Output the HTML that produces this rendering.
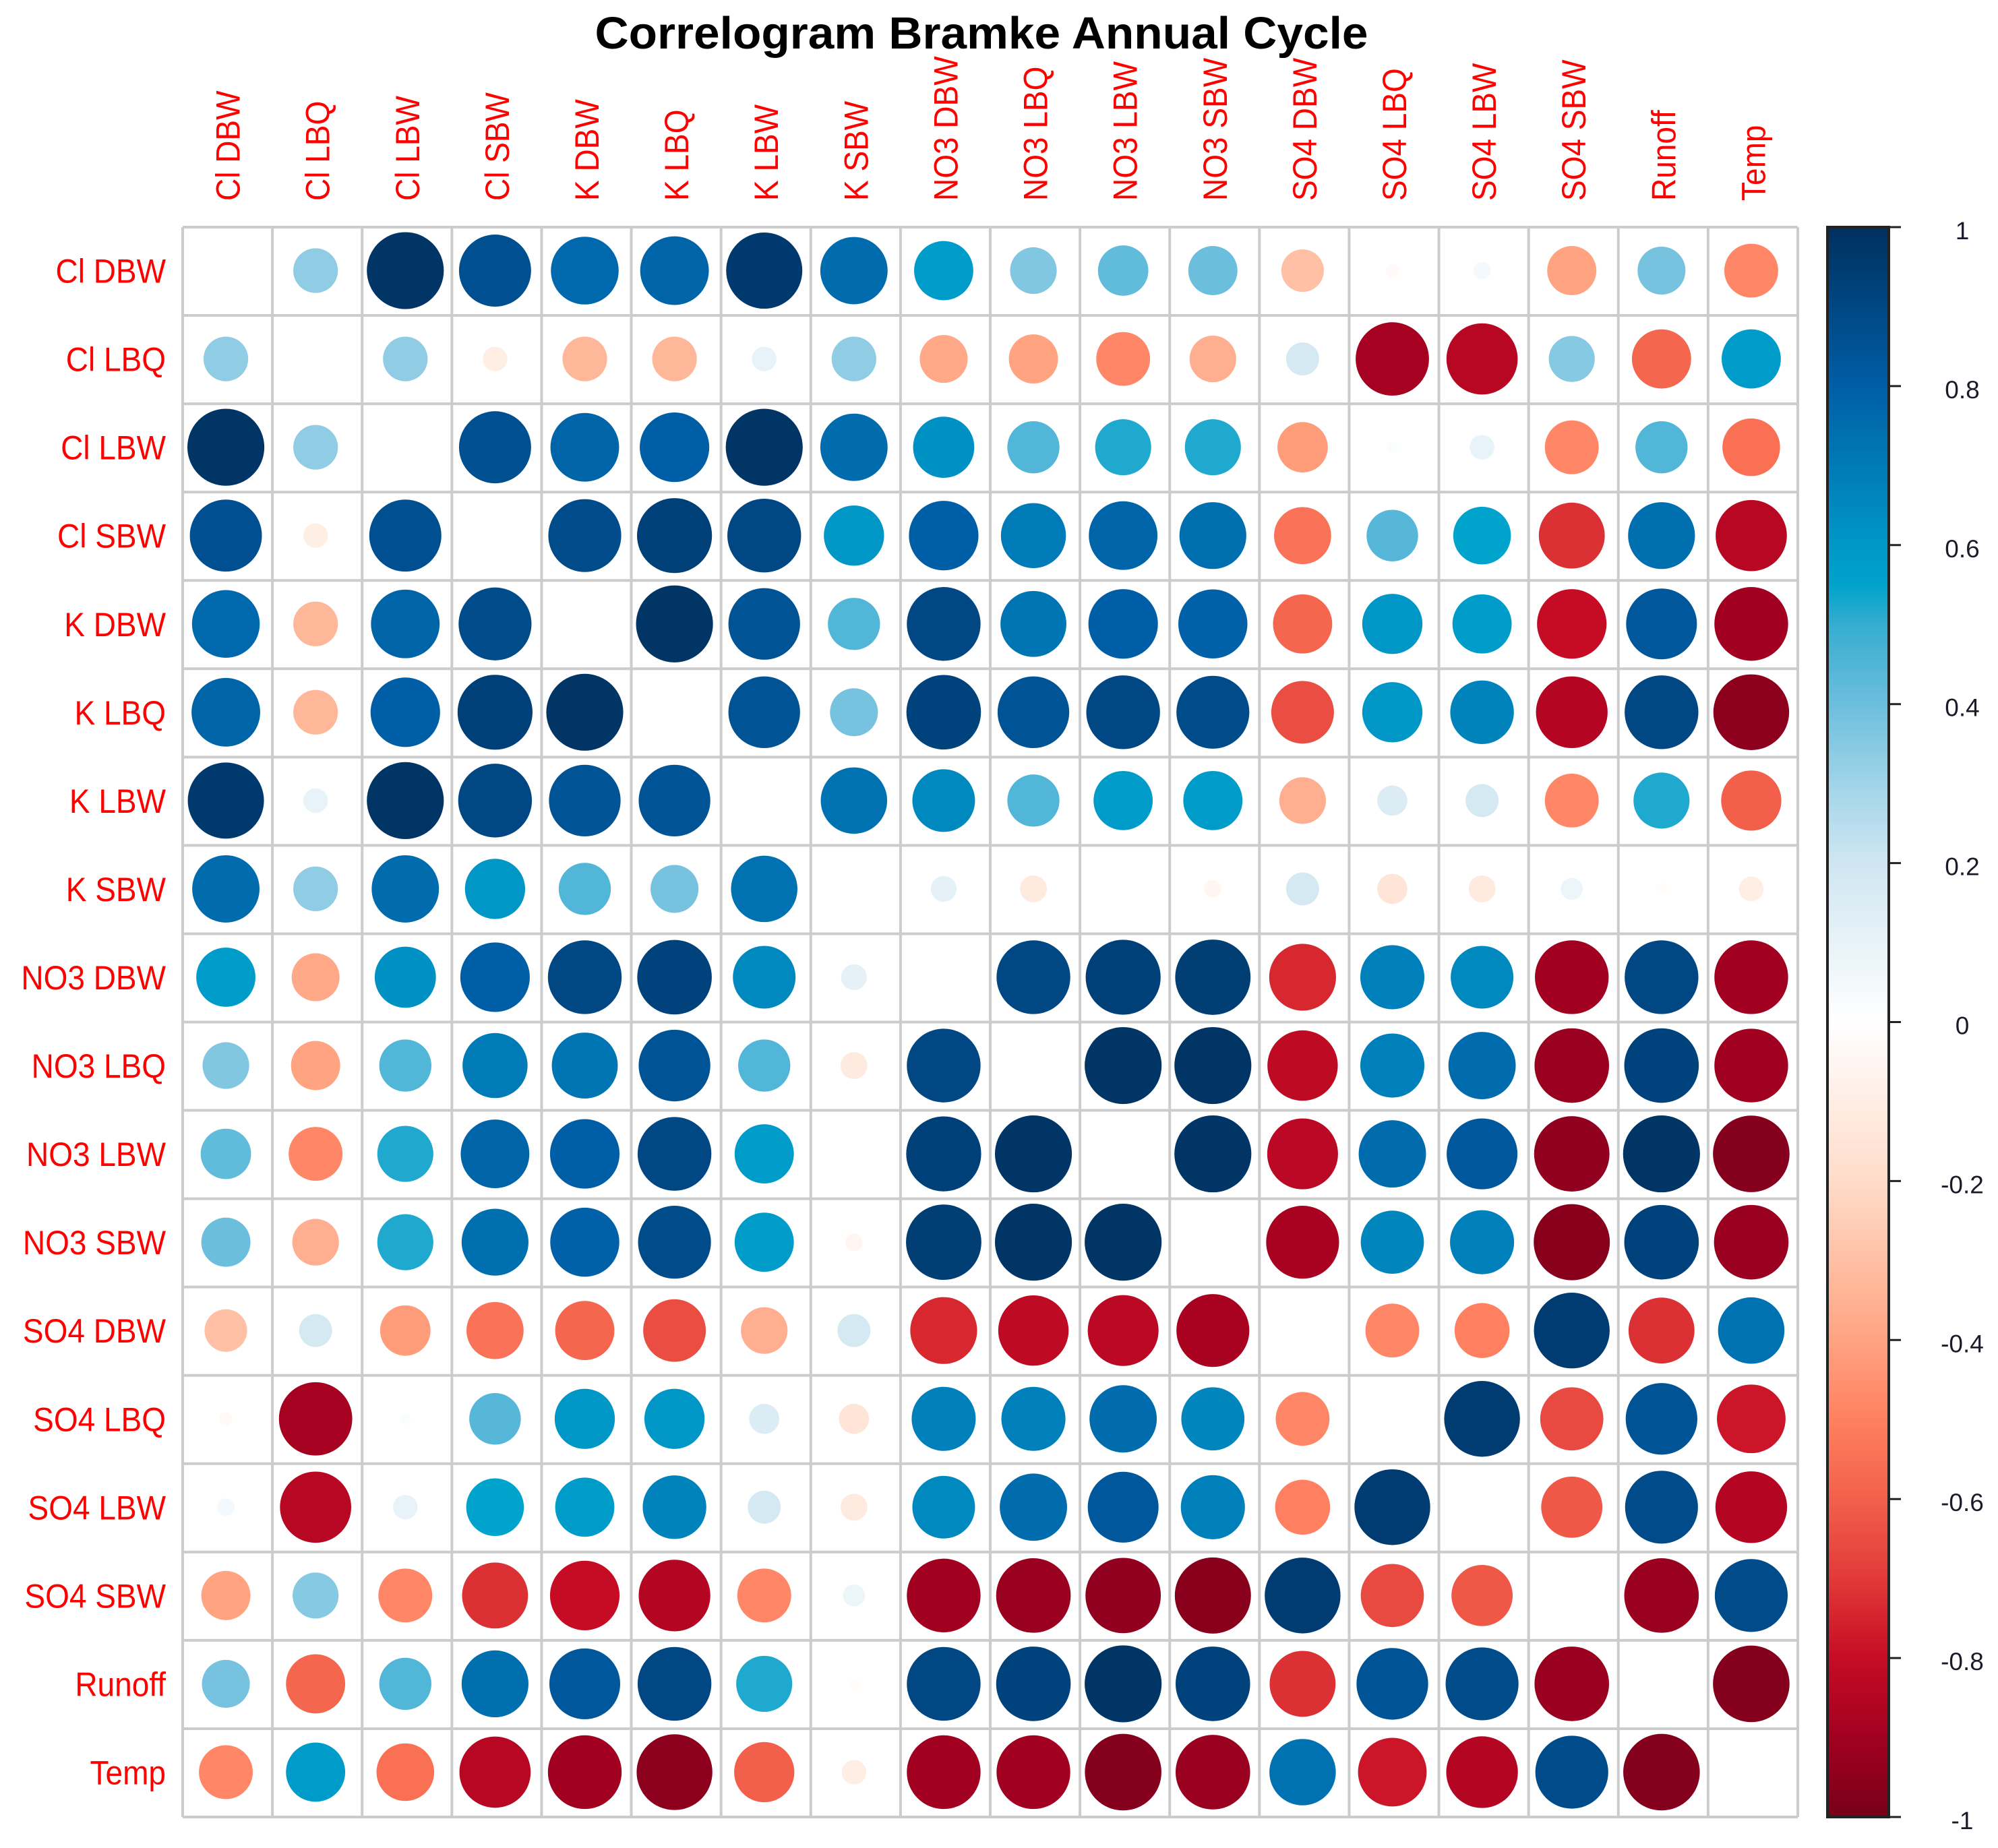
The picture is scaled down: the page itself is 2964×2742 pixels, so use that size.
<!DOCTYPE html>
<html lang="en">
<head>
<meta charset="utf-8">
<title>Correlogram Bramke Annual Cycle</title>
<style>
html,body{margin:0;padding:0;background:#fff;}
svg{display:block;font-family:"Liberation Sans",sans-serif;}
</style>
</head>
<body>
<svg id="chart" xmlns="http://www.w3.org/2000/svg" width="2964" height="2742" viewBox="0 0 2964 2742">
  <defs>
    <linearGradient id="cbGrad" x1="0" y1="0" x2="0" y2="1"></linearGradient>
  </defs>
  <rect x="0" y="0" width="2964" height="2742" fill="#fff"/>
  <text x="1456" y="72" text-anchor="middle" font-size="67" font-weight="bold" fill="#000" textLength="1147" lengthAdjust="spacingAndGlyphs">Correlogram Bramke Annual Cycle</text>
  <g id="grid"></g>
  <g id="circles"></g>
  <g id="rowLabels"></g>
  <g id="colLabels"></g>
  <g id="colorbar"></g>
</svg>
<script>
const variables = ["Cl DBW","Cl LBQ","Cl LBW","Cl SBW","K DBW","K LBQ","K LBW","K SBW","NO3 DBW","NO3 LBQ","NO3 LBW","NO3 SBW","SO4 DBW","SO4 LBQ","SO4 LBW","SO4 SBW","Runoff","Temp"];
const matrix = [
[null,.33,.98,.86,.76,.78,.96,.75,.58,.36,.42,.40,-.30,-.03,.05,-.40,.38,-.48],
[.33,null,.33,-.10,-.33,-.33,.10,.33,-.38,-.40,-.48,-.36,.18,-.89,-.84,.35,-.58,.58],
[.98,.33,null,.86,.78,.80,.98,.75,.62,.45,.52,.52,-.42,.02,.10,-.48,.45,-.55],
[.86,-.10,.86,null,.88,.93,.90,.60,.80,.70,.78,.74,-.54,.44,.55,-.72,.74,-.84],
[.76,-.33,.78,.88,null,.98,.85,.45,.90,.72,.80,.79,-.58,.60,.58,-.80,.83,-.90],
[.78,-.33,.80,.93,.98,null,.85,.38,.92,.85,.90,.88,-.65,.60,.67,-.85,.90,-.95],
[.96,.10,.98,.90,.85,.85,null,.73,.65,.45,.58,.58,-.36,.15,.18,-.48,.52,-.60],
[.75,.33,.75,.60,.45,.38,.73,null,.11,-.12,0,-.05,.18,-.15,-.12,.08,-.02,-.10],
[.58,-.38,.62,.80,.90,.92,.65,.11,null,.90,.93,.94,-.74,.68,.65,-.90,.90,-.90],
[.36,-.40,.45,.70,.72,.85,.45,-.12,.90,null,.98,.98,-.82,.68,.75,-.92,.92,-.90],
[.42,-.48,.52,.78,.80,.90,.58,0,.93,.98,null,.98,-.83,.75,.83,-.94,.98,-.97],
[.40,-.36,.52,.74,.79,.88,.58,-.05,.94,.98,.98,null,-.88,.66,.68,-.96,.92,-.92],
[-.30,.18,-.42,-.54,-.58,-.65,-.36,.18,-.74,-.82,-.83,-.88,null,-.48,-.50,.95,-.72,.73],
[-.03,-.89,.02,.44,.60,.60,.15,-.15,.68,.68,.75,.66,-.48,null,.95,-.66,.85,-.78],
[.05,-.84,.10,.55,.58,.67,.18,-.12,.65,.75,.83,.68,-.50,.95,null,-.62,.88,-.85],
[-.40,.35,-.48,-.72,-.80,-.85,-.48,.08,-.90,-.92,-.94,-.96,.95,-.66,-.62,null,-.92,.88],
[.38,-.58,.45,.74,.83,.90,.52,-.02,.90,.92,.98,.92,-.72,.85,.88,-.92,null,-.97],
[-.48,.58,-.55,-.84,-.90,-.95,-.60,-.10,-.90,-.90,-.97,-.92,.73,-.78,-.85,.88,-.97,null]
];
const legendTicks = [1,0.8,0.6,0.4,0.2,0,-0.2,-0.4,-0.6,-0.8,-1];
const rampValues = [-1,-.9,-.8,-.7,-.6,-.5,-.4,-.2,0,.2,.3,.4,.5,.55,.6,.8,1];
const rampColors = ["#78001A","#A20020","#C60C25","#E23A38","#F2604B","#FF8060","#FFA381","#FFDCC9","#FFFFFF","#CFE6F1","#A0D4E8","#6CBEDD","#35ADD0","#00A3CC","#0097C7","#005EA6","#00305F"];

const NS = "http://www.w3.org/2000/svg";
const plot = {left:271, right:2667, top:337, bottom:2696};
const bar = {left:2711, right:2802, tickEnd:2820, labelX:2911};
const n = variables.length;
const cellW = (plot.right - plot.left) / n;
const cellH = (plot.bottom - plot.top) / n;

function xEdge(i){ return plot.left + i * cellW; }
function yEdge(i){ return plot.top + i * cellH; }
function xCenter(i){ return xEdge(i) + cellW / 2 - 2.5; }
function yCenter(i){ return yEdge(i) + cellH / 2 - 1; }
function radius(v){ return 0.44 * cellH * Math.sqrt(Math.abs(v)); }
function legendY(v){ return plot.top + (1 - v) / 2 * (plot.bottom - plot.top); }
function hexToRgb(h){ return [1,3,5].map(function(k){ return parseInt(h.substr(k,2),16); }); }
function colorOf(v){
  const c = Math.max(-1, Math.min(1, v));
  for (let k = 0; k < rampValues.length - 1; k++) {
    if (c <= rampValues[k + 1]) {
      const t = (c - rampValues[k]) / (rampValues[k + 1] - rampValues[k]);
      const a = hexToRgb(rampColors[k]);
      const b = hexToRgb(rampColors[k + 1]);
      return "rgb(" + a.map(function(x, m){ return Math.round(x + (b[m] - x) * t); }).join(",") + ")";
    }
  }
  return rampColors[rampColors.length - 1];
}
function make(tag, parent, props){
  const el = document.createElementNS(NS, tag);
  Object.keys(props).forEach(function(k){ el.setAttribute(k, props[k]); });
  parent.appendChild(el);
  return el;
}

const gridG = document.getElementById("grid");
for (let i = 0; i <= n; i++) {
  const vLine = make("line", gridG, {x1:xEdge(i), x2:xEdge(i), y1:plot.top, y2:plot.bottom, stroke:"#CCCCCC", "stroke-width":4});
  
  
  const hLine = make("line", gridG, {x1:plot.left, x2:plot.right, y1:yEdge(i), y2:yEdge(i), stroke:"#CCCCCC", "stroke-width":4});
  
  
}

const circlesG = document.getElementById("circles");
matrix.forEach(function(row, r){
  row.forEach(function(v, c){
    if (v === null || v === 0) return;
    const dot = make("circle", circlesG, {cx:xCenter(c), cy:yCenter(r), r:radius(v), fill:colorOf(v)});
    
    
  });
});

const rowG = document.getElementById("rowLabels");
const colG = document.getElementById("colLabels");
variables.forEach(function(name, i){
  const rowText = make("text", rowG, {transform:"translate(246," + (yEdge(i) + cellH / 2 + 17) + ") scale(.92,1)", "text-anchor":"end", "font-size":50, fill:"#FF0000"});
  rowText.textContent = name;
  
  
  const colText = make("text", colG, {transform:"translate(" + (xEdge(i) + cellW / 2 + 18) + ",298) rotate(-90) scale(.92,1)", "text-anchor":"start", "font-size":50, fill:"#FF0000"});
  colText.textContent = name;
  
  
});

const grad = document.getElementById("cbGrad");
for (let k = rampValues.length - 1; k >= 0; k--) {
  make("stop", grad, {offset:(1 - rampValues[k]) / 2, "stop-color":rampColors[k]});
}
const cbG = document.getElementById("colorbar");
const barRect = make("rect", cbG, {x:bar.left, y:plot.top, width:bar.right - bar.left, height:plot.bottom - plot.top, fill:"url(#cbGrad)", stroke:"#222", "stroke-width":4});


legendTicks.forEach(function(v){
  const tick = make("line", cbG, {x1:bar.right, x2:bar.tickEnd, y1:legendY(v), y2:legendY(v), stroke:"#222", "stroke-width":3});
  
  
  const label = make("text", cbG, {x:bar.labelX, y:legendY(v) + 18, "text-anchor":"middle", "font-size":37, fill:"#1a1a2a"});
  label.textContent = String(v);
  
  
});
</script>
</body>
</html>
